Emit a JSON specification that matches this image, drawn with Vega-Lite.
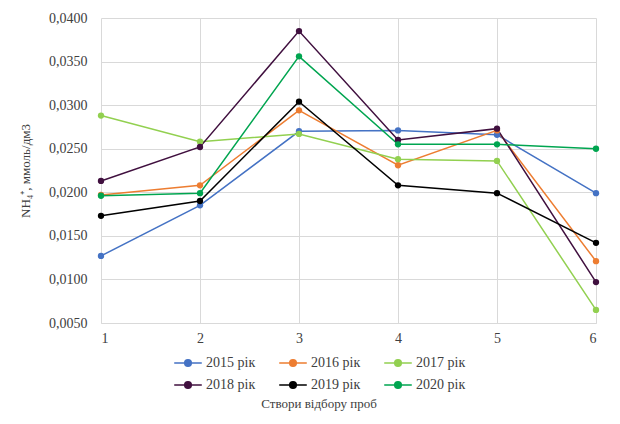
{
  "$schema": "https://vega.github.io/schema/vega-lite/v6.json",
  "width": 495,
  "height": 305,
  "autosize": {"type": "none"},
  "padding": {"left": 101, "top": 18, "right": 24, "bottom": 101},
  "background": "white",
  "config": {
    "locale": {"number": {"decimal": ",", "thousands": " ", "grouping": [3], "currency": ["", ""]}},
    "font": "Liberation Serif, Times New Roman, serif",
    "view": {"stroke": null},
    "axis": {"labelFont": "Liberation Serif, Times New Roman, serif", "titleFont": "Liberation Serif, Times New Roman, serif", "labelColor": "#404040", "titleColor": "#404040", "labelFontSize": 14, "titleFontSize": 13, "titleFontWeight": "normal", "gridColor": "#d9d9d9", "domainColor": "#d9d9d9", "tickColor": "#d9d9d9"},
    "legend": {"labelFont": "Liberation Serif, Times New Roman, serif", "titleFont": "Liberation Serif, Times New Roman, serif", "labelFontSize": 14, "titleFontSize": 13, "titleFontWeight": "normal", "labelColor": "#404040", "titleColor": "#404040"}
  },
  "data": {"values": [
    {"s": 1, "y": "2015 рік", "v": 0.0127}, {"s": 2, "y": "2015 рік", "v": 0.0185}, {"s": 3, "y": "2015 рік", "v": 0.0270}, {"s": 4, "y": "2015 рік", "v": 0.0271}, {"s": 5, "y": "2015 рік", "v": 0.0266}, {"s": 6, "y": "2015 рік", "v": 0.0199},
    {"s": 1, "y": "2016 рік", "v": 0.0197}, {"s": 2, "y": "2016 рік", "v": 0.0208}, {"s": 3, "y": "2016 рік", "v": 0.0294}, {"s": 4, "y": "2016 рік", "v": 0.0231}, {"s": 5, "y": "2016 рік", "v": 0.0271}, {"s": 6, "y": "2016 рік", "v": 0.0121},
    {"s": 1, "y": "2017 рік", "v": 0.0288}, {"s": 2, "y": "2017 рік", "v": 0.0258}, {"s": 3, "y": "2017 рік", "v": 0.0267}, {"s": 4, "y": "2017 рік", "v": 0.0238}, {"s": 5, "y": "2017 рік", "v": 0.0236}, {"s": 6, "y": "2017 рік", "v": 0.0065},
    {"s": 1, "y": "2018 рік", "v": 0.0213}, {"s": 2, "y": "2018 рік", "v": 0.0252}, {"s": 3, "y": "2018 рік", "v": 0.0385}, {"s": 4, "y": "2018 рік", "v": 0.0260}, {"s": 5, "y": "2018 рік", "v": 0.0273}, {"s": 6, "y": "2018 рік", "v": 0.0097},
    {"s": 1, "y": "2019 рік", "v": 0.0173}, {"s": 2, "y": "2019 рік", "v": 0.0190}, {"s": 3, "y": "2019 рік", "v": 0.0304}, {"s": 4, "y": "2019 рік", "v": 0.0208}, {"s": 5, "y": "2019 рік", "v": 0.0199}, {"s": 6, "y": "2019 рік", "v": 0.0142},
    {"s": 1, "y": "2020 рік", "v": 0.0196}, {"s": 2, "y": "2020 рік", "v": 0.0199}, {"s": 3, "y": "2020 рік", "v": 0.0356}, {"s": 4, "y": "2020 рік", "v": 0.0255}, {"s": 5, "y": "2020 рік", "v": 0.0255}, {"s": 6, "y": "2020 рік", "v": 0.0250}
  ]},
  "encoding": {
    "x": {"field": "s", "type": "quantitative", "scale": {"domain": [1, 6], "nice": false},
      "axis": {"title": null, "values": [1, 2, 3, 4, 5, 6], "format": "d", "ticks": false, "labelPadding": 8, "grid": true, "domain": true}},
    "y": {"field": "v", "type": "quantitative", "scale": {"domain": [0.005, 0.04], "nice": false, "zero": false},
      "axis": {"title": "NH₄⁺, ммоль/дм3", "values": [0.005, 0.01, 0.015, 0.02, 0.025, 0.03, 0.035, 0.04], "format": ".4f", "ticks": false, "labelPadding": 14, "domain": false, "titlePadding": 16}},
    "color": {"field": "y", "type": "nominal",
      "scale": {"domain": ["2015 рік", "2016 рік", "2017 рік", "2018 рік", "2019 рік", "2020 рік"], "range": ["#4472C4", "#ED7D31", "#92D050", "#40103F", "#000000", "#00A550"]},
      "legend": {"orient": "none", "legendX": 72, "legendY": 330, "direction": "horizontal", "columns": 3, "title": "Створи відбору проб", "titleOrient": "bottom", "titleAnchor": "middle", "titlePadding": 6, "columnPadding": 20, "rowPadding": -7, "labelOffset": 3, "symbolType": "M-1,0L1,0M-0.24,0A0.24,0.24 0 1,1 0.24,0A0.24,0.24 0 1,1 -0.24,0", "symbolSize": 760, "symbolStrokeWidth": 1.5}}
  },
  "layer": [
    {"mark": {"type": "line", "strokeWidth": 1.5}},
    {"mark": {"type": "circle", "size": 40, "opacity": 1}}
  ]
}
